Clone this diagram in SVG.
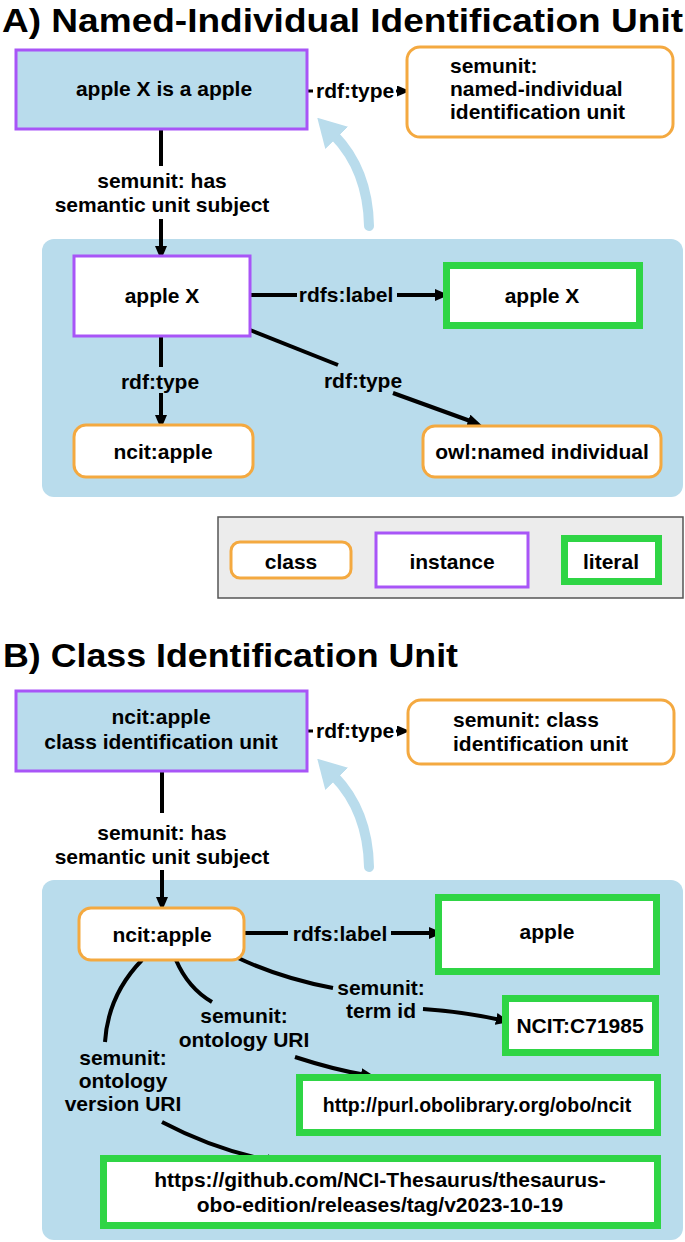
<svg xmlns="http://www.w3.org/2000/svg" width="685" height="1242" viewBox="0 0 685 1242">
<style>
text{font-family:"Liberation Sans",Arial,sans-serif;font-weight:bold;font-size:21px;fill:#000}
.title{font-family:"Liberation Sans",Arial,sans-serif;font-size:34px;font-weight:bold}
.c{text-anchor:middle}
.unit{fill:#b9dcec;stroke:#a855f7;stroke-width:3}
.inst{fill:#fff;stroke:#a855f7;stroke-width:3}
.cls{fill:#fff;stroke:#f4a940;stroke-width:3}
.lit{fill:#fff;stroke:#2fd545;stroke-width:7}
.cont{fill:#b9dcec}
.e{fill:none;stroke:#000;stroke-width:4}
.es{fill:none;stroke:#000;stroke-width:3}
.blue{fill:none;stroke:#b9dcec;stroke-width:10;stroke-linecap:round}
.url{font-size:19.5px}
</style>
<defs>
<marker id="ah" markerWidth="14" markerHeight="12" refX="5" refY="6" orient="auto" markerUnits="userSpaceOnUse"><path d="M0,0 L14,6 L0,12 z" fill="#000"/></marker>
<marker id="ahs" markerWidth="13" markerHeight="11" refX="2" refY="5.5" orient="auto" markerUnits="userSpaceOnUse"><path d="M0,0 L13,5.5 L0,11 z" fill="#000"/></marker>
<marker id="ahb" markerWidth="28" markerHeight="32" refX="4" refY="16" orient="auto" markerUnits="userSpaceOnUse"><path d="M0,0 L28,16 L0,32 z" fill="#b9dcec"/></marker>
</defs>
<rect width="685" height="1242" fill="#fff"/>

<text class="title" x="2" y="32" textLength="681" lengthAdjust="spacingAndGlyphs">A) Named-Individual Identification Unit</text>
<text class="title" x="3" y="667" textLength="455" lengthAdjust="spacingAndGlyphs">B) Class Identification Unit</text>

<g id="containerA"><rect class="cont" x="42" y="239" width="641" height="258" rx="12"/></g>
<g id="containerB"><rect class="cont" x="42" y="880" width="641" height="360" rx="12"/></g>

<g id="connectors">
<path class="blue" d="M369,226 Q368,170 334,135" marker-end="url(#ahb)"/>
<path class="blue" d="M369,867 Q368,811 334,776" marker-end="url(#ahb)"/>
<!-- A: rdf:type top -->
<path class="es" d="M307,91 L313,91"/>
<text x="316" y="98">rdf:type</text>
<path class="es" d="M396,91 L399,91" marker-end="url(#ahs)"/>
<!-- A: has semantic unit subject -->
<path class="e" d="M161,129 L161,166"/>
<text class="c" x="162" y="188">semunit: has</text>
<text class="c" x="162" y="212">semantic unit subject</text>
<path class="e" d="M161,219 L161,251" marker-end="url(#ah)"/>
<!-- A: rdfs:label -->
<path class="e" d="M250,295 L297,295"/>
<text class="c" x="346" y="302">rdfs:label</text>
<path class="e" d="M397,295 L440,295" marker-end="url(#ah)"/>
<!-- A: rdf:type vertical -->
<path class="e" d="M161,336 L161,367"/>
<text class="c" x="160" y="389">rdf:type</text>
<path class="e" d="M161,393 L161,420" marker-end="url(#ah)"/>
<!-- A: rdf:type diagonal -->
<path class="e" d="M250,330 L338,365"/>
<text class="c" x="363" y="388">rdf:type</text>
<path class="e" d="M393,393 L473,422" marker-end="url(#ah)"/>

<!-- B: rdf:type top -->
<path class="es" d="M307,731 L313,731"/>
<text x="316" y="738">rdf:type</text>
<path class="es" d="M396,731 L399,731" marker-end="url(#ahs)"/>
<!-- B: has semantic unit subject -->
<path class="e" d="M162,771 L162,813"/>
<text class="c" x="162" y="840">semunit: has</text>
<text class="c" x="162" y="864">semantic unit subject</text>
<path class="e" d="M162,870 L162,902" marker-end="url(#ah)"/>
<!-- B: rdfs:label -->
<path class="e" d="M244,933 L288,933"/>
<text class="c" x="340" y="941">rdfs:label</text>
<path class="e" d="M391,933 L434,933" marker-end="url(#ah)"/>
<!-- B: term id -->
<path class="e" d="M236,957 Q280,978 333,988"/>
<text class="c" x="381" y="995">semunit:</text>
<text class="c" x="381" y="1018">term id</text>
<path class="e" d="M423,1009 Q465,1012 501,1020" marker-end="url(#ah)"/>
<!-- B: ontology URI -->
<path class="e" d="M176,960 Q188,988 212,1002"/>
<text class="c" x="244" y="1023">semunit:</text>
<text class="c" x="244" y="1047">ontology URI</text>
<path class="e" d="M295,1057 Q335,1070 366,1075" marker-end="url(#ah)"/>
<!-- B: ontology version URI -->
<path class="e" d="M142,960 Q108,995 105,1042"/>
<text class="c" x="123" y="1065">semunit:</text>
<text class="c" x="123" y="1088">ontology</text>
<text class="c" x="123" y="1111">version URI</text>
<path class="e" d="M162,1122 Q215,1150 272,1161" marker-end="url(#ah)"/>
</g>

<g id="nodeA1"><rect class="unit" x="16" y="50" width="291" height="79"/><text class="c" x="164" y="96">apple X is a apple</text></g>
<g id="nodeA2"><rect class="cls" x="407" y="47" width="266" height="90" rx="13"/><text x="450" y="73">semunit:</text><text x="450" y="96">named-individual</text><text x="450" y="119">identification unit</text></g>
<g id="nodeA3"><rect class="inst" x="74" y="256" width="176" height="80"/><text class="c" x="162" y="303">apple X</text></g>
<g id="nodeA4"><rect class="lit" x="446.5" y="265.5" width="193" height="60"/><text class="c" x="542" y="303">apple X</text></g>
<g id="nodeA5"><rect class="cls" x="74" y="425" width="179" height="52" rx="12"/><text class="c" x="163" y="459">ncit:apple</text></g>
<g id="nodeA6"><rect class="cls" x="423" y="426" width="238" height="51" rx="12"/><text class="c" x="542" y="459">owl:named individual</text></g>

<g id="legend">
<rect x="218" y="517" width="465" height="81" fill="#ececec" stroke="#555" stroke-width="1.5"/>
<rect class="cls" x="231" y="542" width="120" height="36" rx="9"/><text class="c" x="291" y="569">class</text>
<rect class="inst" x="376" y="533" width="152" height="54"/><text class="c" x="452" y="569">instance</text>
<rect class="lit" x="564.5" y="538.5" width="94" height="43"/><text class="c" x="611" y="569">literal</text>
</g>

<g id="nodeB1"><rect class="unit" x="16" y="691" width="291" height="80"/><text class="c" x="161" y="724">ncit:apple</text><text class="c" x="161" y="749">class identification unit</text></g>
<g id="nodeB2"><rect class="cls" x="408" y="700" width="266" height="64" rx="13"/><text x="453" y="727">semunit: class</text><text x="453" y="751">identification unit</text></g>
<g id="nodeB3"><rect class="cls" x="79" y="908" width="165" height="52" rx="12"/><text class="c" x="162" y="942">ncit:apple</text></g>
<g id="nodeB4"><rect class="lit" x="438.5" y="897.5" width="218" height="74"/><text class="c" x="547" y="939">apple</text></g>
<g id="nodeB5"><rect class="lit" x="505.5" y="998.5" width="150" height="54"/><text class="c" x="580" y="1033">NCIT:C71985</text></g>
<g id="nodeB6"><rect class="lit" x="299.5" y="1077.5" width="358" height="55"/><text class="c url" x="477" y="1112">http://purl.obolibrary.org/obo/ncit</text></g>
<g id="nodeB7"><rect class="lit" x="103.5" y="1158.5" width="554" height="67"/><text class="c" x="380" y="1187">https://github.com/NCI-Thesaurus/thesaurus-</text><text class="c" x="380" y="1212">obo-edition/releases/tag/v2023-10-19</text></g>
</svg>
